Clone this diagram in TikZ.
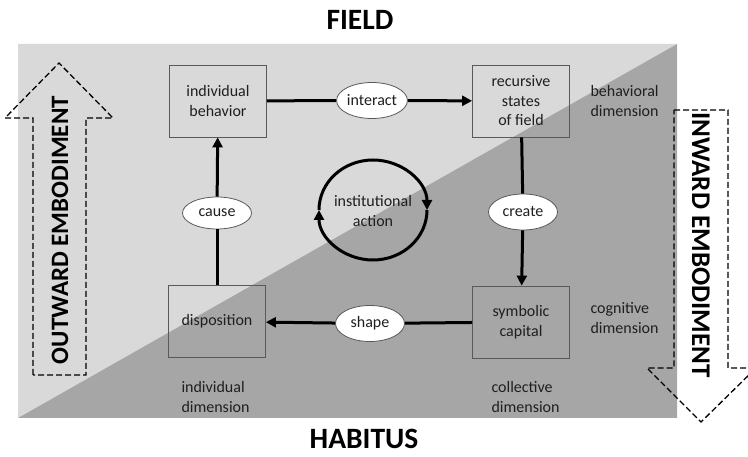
\documentclass[tikz,border=0pt]{standalone}
\usepackage{fontspec}
\setmainfont{Carlito}
\usetikzlibrary{arrows.meta,shapes.geometric}
\definecolor{lightbg}{HTML}{D9D9D9}
\definecolor{darkbg}{HTML}{A6A6A6}
\definecolor{edge}{HTML}{595959}
\definecolor{ink}{HTML}{1F1F1F}
\begin{document}
\begin{tikzpicture}[x=1pt,y=-1pt,
  every node/.style={font=\fontsize{16}{19.5}\selectfont, text=ink},
  stagebox/.style={draw=edge, line width=0.8pt, minimum width=97pt, minimum height=72pt, align=center, inner sep=0pt},
  verb/.style={ellipse, draw=edge, line width=0.8pt, fill=white, minimum width=69pt, minimum height=36pt, inner sep=0pt},
  flow/.style={line width=3pt, draw=black},
  tip/.style={-{Triangle[length=10pt,width=10pt]}},
  dimlabel/.style={align=left, anchor=west},
  title/.style={font=\fontsize{29.5}{34}\selectfont\bfseries, text=black, anchor=base, inner sep=0pt},
  sidetitle/.style={font=\bfseries, text=black},
  embody/.style={draw=black, line width=1.3pt, dash pattern=on 6pt off 3pt, line join=miter}
]
\useasboundingbox (0,0) rectangle (748,457);
\clip (0,0) rectangle (748,457);

% two-tone ground: field (upper left) and habitus (lower right)
\fill[lightbg] (18,44) -- (677,44) -- (18,418) -- cycle;
\fill[darkbg] (677,44) -- (677,418) -- (18,418) -- cycle;

% titles
\node[title] (field) at (360,30) {FIELD};
\node[title] (habitus) at (364,449) {HABITUS};

% stages of the cycle
\node[stagebox] (ib) at (218,101) {individual\\behavior};
\node[stagebox] (rs) at (521,101) {recursive\\states\\of field};
\node[stagebox] (sc) at (521,322) {symbolic\\capital};
\node[stagebox] (disp) at (217,321.5) {disposition};

% verbs on the connectors
\node[verb] (interact) at (372,100.5) {interact};
\node[verb] (create) at (523,212) {create};
\node[verb] (shape) at (370,323.5) {shape};
\node[verb, minimum height=32pt] (cause) at (217,213) {cause};

% connectors
\draw[flow] (ib) -- (interact);
\draw[flow, tip] (interact) -- (rs);
\draw[flow] (rs) -- (create);
\draw[flow, tip] (create) -- (sc);
\draw[flow] (sc) -- (shape);
\draw[flow, tip] (shape) -- (disp);
\draw[flow] (disp) -- (cause);
\draw[flow, tip] (cause) -- (ib);

% institutional action loop, turning clockwise
\node[align=center, font=\fontsize{16}{20}\selectfont] (inst) at (373,211) {institutional\\action};
\coordinate (loopright) at (427,210);
\coordinate (loopleft) at (319,210);
\draw[line width=3pt, tip] (loopright) arc[start angle=0, end angle=180, x radius=54, y radius=50];
\draw[line width=3pt, tip] (loopleft) arc[start angle=180, end angle=360, x radius=54, y radius=50];

% dimension labels
\node[dimlabel] (beh) at (587,101) {behavioral\\dimension};
\node[dimlabel] (cog) at (587,318) {cognitive\\dimension};
\node[dimlabel] (ind) at (178,397) {individual\\dimension};
\node[dimlabel] (col) at (488,397) {collective\\dimension};

% outward embodiment (upward hollow arrow)
\draw[embody] (33,375) -- (33,118) -- (5,118) -- (59,63) -- (113,118) -- (86,118) -- (86,375) -- cycle;
\node[sidetitle, font=\fontsize{25}{30}\selectfont\bfseries, rotate=90] (outward) at (60,230) {OUTWARD EMBODIMENT};

% inward embodiment (downward hollow arrow)
\draw[embody] (674,110) -- (728,110) -- (728,368) -- (756,368) -- (701,422) -- (647,368) -- (674,368) -- cycle;
\node[sidetitle, font=\fontsize{27}{30}\selectfont\bfseries, rotate=-90] (inward) at (701,245) {INWARD EMBODIMENT};
\end{tikzpicture}
\end{document}
